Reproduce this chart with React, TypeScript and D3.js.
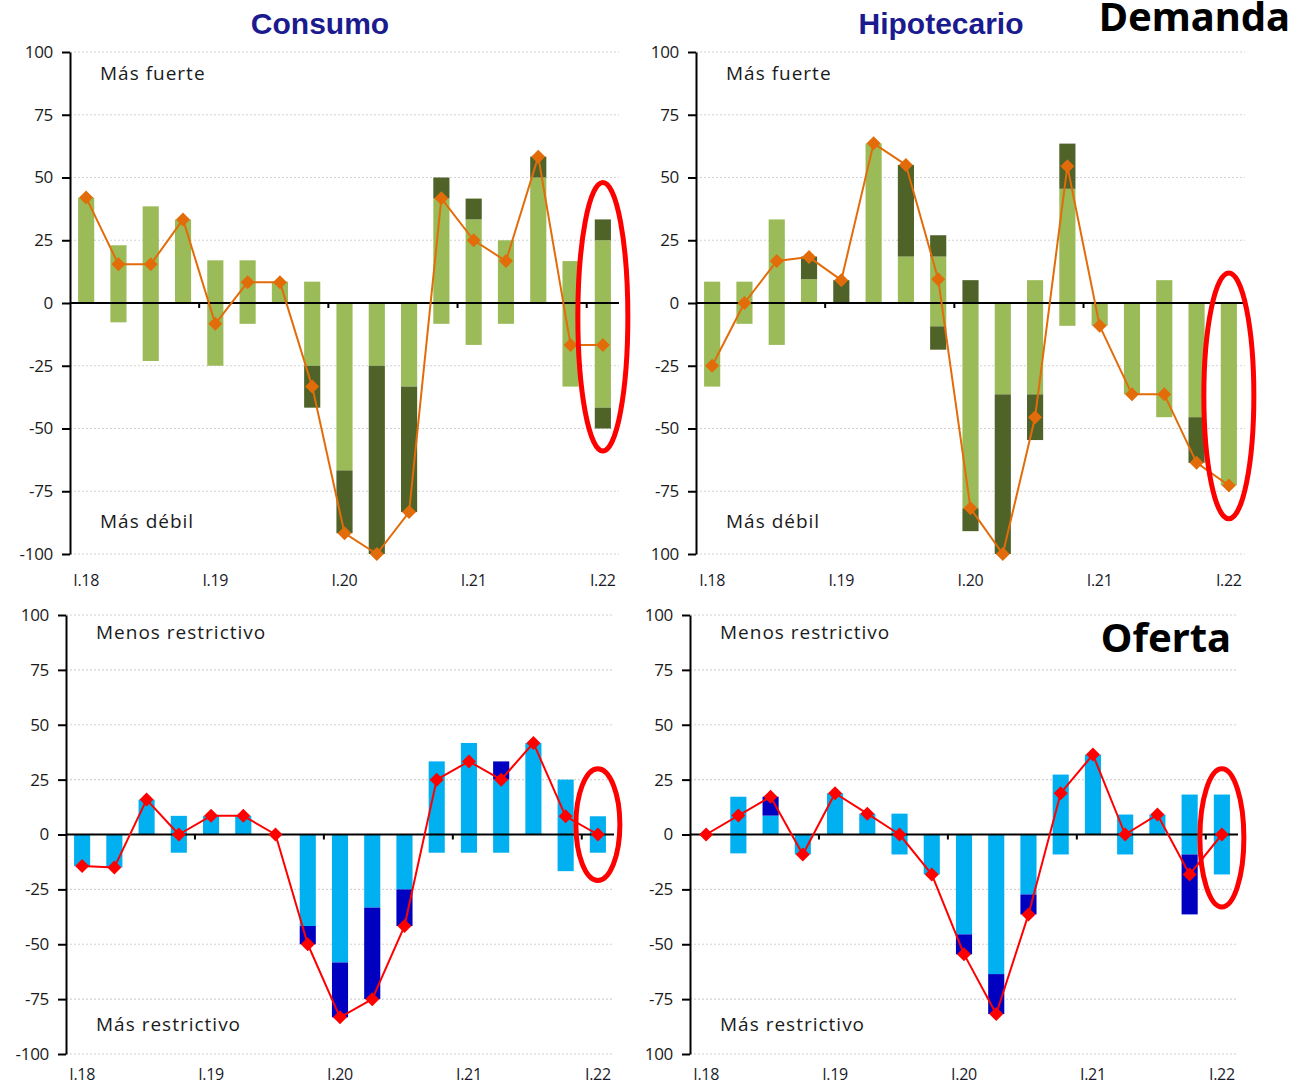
import * as React from 'react';
import * as d3 from 'd3';

// quarters shown on every panel
const quarters = [
  'I.18', 'II.18', 'III.18', 'IV.18',
  'I.19', 'II.19', 'III.19', 'IV.19',
  'I.20', 'II.20', 'III.20', 'IV.20',
  'I.21', 'II.21', 'III.21', 'IV.21',
  'I.22'
];
const yearLabels = ['I.18', 'I.19', 'I.20', 'I.21', 'I.22'];
const yTicks = [100, 75, 50, 25, 0, -25, -50, -75, -100];

// Demanda - Consumo
const consDemLightPos = [42, 23, 38.5, 33.3, 17, 17, 8.5, 8.5, 0, 0, 0, 41.7, 33.3, 25, 50, 16.7, 25];
const consDemDarkPos = [0, 0, 0, 0, 0, 0, 0, 0, 0, 0, 0, 8.3, 8.3, 0, 8.3, 0, 8.3];
const consDemLightNeg = [0, -7.7, -23.1, 0, -25, -8.3, 0, -25, -66.7, -25, -33.3, -8.3, -16.7, -8.3, 0, -33.3, -41.7];
const consDemDarkNeg = [0, 0, 0, 0, 0, 0, 0, -16.7, -25, -75, -50, 0, 0, 0, 0, 0, -8.3];
const consDemNet = [42, 15.4, 15.4, 33.3, -8.3, 8.3, 8.3, -33.3, -91.7, -100, -83.3, 41.7, 25, 16.7, 58.3, -16.7, -16.7];

// Demanda - Hipotecario
const hipDemLightPos = [8.5, 8.5, 33.3, 9.5, 0, 63.6, 18.5, 18.5, 0, 0, 9.1, 45.5, 0, 0, 9.1, 0, 0];
const hipDemDarkPos = [0, 0, 0, 9, 9.1, 0, 36.5, 8.5, 9.1, 0, 0, 18, 0, 0, 0, 0, 0];
const hipDemLightNeg = [-33.3, -8.3, -16.7, 0, 0, 0, 0, -9.3, -81.8, -36.4, -36.4, -9.1, -9.1, -36.4, -45.5, -45.5, -72.7];
const hipDemDarkNeg = [0, 0, 0, 0, 0, 0, 0, -9.3, -9.1, -63.6, -18.2, 0, 0, 0, 0, -18.2, 0];
const hipDemNet = [-25, 0, 16.7, 18.3, 9.1, 63.6, 55, 9.5, -81.8, -100, -45.5, 54.5, -9.1, -36.4, -36.4, -63.6, -72.7];

// Oferta - Consumo
const consOfeLightPos = [0, 0, 15.9, 8.5, 8.5, 8.5, 0, 0, 0, 0, 0, 33.3, 41.7, 25, 41.7, 25, 8.3];
const consOfeDarkPos = [0, 0, 0, 0, 0, 0, 0, 0, 0, 0, 0, 0, 0, 8.3, 0, 0, 0];
const consOfeLightNeg = [-14.4, -15, 0, -8.3, 0, 0, 0, -41.7, -58.3, -33.3, -25, -8.3, -8.3, -8.3, 0, -16.7, -8.3];
const consOfeDarkNeg = [0, 0, 0, 0, 0, 0, 0, -8.3, -25, -41.7, -16.7, 0, 0, 0, 0, 0, 0];
const consOfeNet = [-14.4, -15, 15.9, 0, 8.5, 8.5, 0, -50, -83.3, -75, -41.7, 25, 33.3, 25, 41.7, 8.3, 0];

// Oferta - Hipotecario
const hipOfeLightPos = [0, 17.2, 8.6, 0, 18.8, 9.5, 9.5, 0, 0, 0, 0, 27.3, 36.4, 9.1, 9.1, 18.2, 18.2];
const hipOfeDarkPos = [0, 0, 8.6, 0, 0, 0, 0, 0, 0, 0, 0, 0, 0, 0, 0, 0, 0];
const hipOfeLightNeg = [0, -8.6, 0, -9.1, 0, 0, -9.1, -18.2, -45.5, -63.6, -27.3, -9.1, 0, -9.1, 0, -9.1, -18.2];
const hipOfeDarkNeg = [0, 0, 0, 0, 0, 0, 0, 0, -9.1, -18.2, -9.1, 0, 0, 0, 0, -27.3, 0];
const hipOfeNet = [0, 8.6, 17.2, -9.1, 18.8, 9.5, 0, -18.2, -54.5, -81.8, -36.4, 18.8, 36.4, 0, 9.1, -18.2, 0];

const FONT = "'Open Sans', 'DejaVu Sans', sans-serif";

interface Panel {
  left: number;
  right: number;
  top: number;
  bottom: number;
  lightPos: number[];
  darkPos: number[];
  lightNeg: number[];
  darkNeg: number[];
  net: number[];
  light: string;
  dark: string;
  lineColor: string;
  upper: string;
  lower: string;
  upperY: number;
  lowerY: number;
  xLabelY: number;
  minusBottom: boolean;
  ring: [number, number];
  ringRx: number;
}

const panels: Panel[] = [
  {
    left: 70, right: 619, top: 52, bottom: 554,
    lightPos: consDemLightPos, darkPos: consDemDarkPos, lightNeg: consDemLightNeg, darkNeg: consDemDarkNeg, net: consDemNet,
    light: '#9BBB59', dark: '#4F6228', lineColor: '#E36C0A',
    upper: 'Más fuerte', lower: 'Más débil', upperY: 80, lowerY: 528, xLabelY: 586,
    minusBottom: true, ring: [48, -59], ringRx: 25
  },
  {
    left: 696, right: 1245, top: 52, bottom: 554,
    lightPos: hipDemLightPos, darkPos: hipDemDarkPos, lightNeg: hipDemLightNeg, darkNeg: hipDemDarkNeg, net: hipDemNet,
    light: '#9BBB59', dark: '#4F6228', lineColor: '#E36C0A',
    upper: 'Más fuerte', lower: 'Más débil', upperY: 80, lowerY: 528, xLabelY: 586,
    minusBottom: false, ring: [12, -86], ringRx: 25
  },
  {
    left: 66, right: 614, top: 615, bottom: 1054,
    lightPos: consOfeLightPos, darkPos: consOfeDarkPos, lightNeg: consOfeLightNeg, darkNeg: consOfeDarkNeg, net: consOfeNet,
    light: '#00B0F0', dark: '#0000C0', lineColor: '#FF0000',
    upper: 'Menos restrictivo', lower: 'Más restrictivo', upperY: 639, lowerY: 1031, xLabelY: 1080,
    minusBottom: true, ring: [30, -21], ringRx: 22
  },
  {
    left: 690, right: 1238, top: 615, bottom: 1054,
    lightPos: hipOfeLightPos, darkPos: hipOfeDarkPos, lightNeg: hipOfeLightNeg, darkNeg: hipOfeDarkNeg, net: hipOfeNet,
    light: '#00B0F0', dark: '#0000C0', lineColor: '#FF0000',
    upper: 'Menos restrictivo', lower: 'Más restrictivo', upperY: 639, lowerY: 1031, xLabelY: 1080,
    minusBottom: false, ring: [30, -33], ringRx: 22
  }
];

const drawPanel = (svg: any, p: Panel) => {
  const x = d3.scaleBand<string>().domain(quarters).range([p.left, p.right]).paddingInner(0.5).paddingOuter(0.25);
  const y = d3.scaleLinear().domain([-100, 100]).range([p.bottom, p.top]);
  const bw = x.bandwidth();
  const g = svg.append('g');

  // dotted grid
  g.selectAll('line.grid')
    .data(yTicks.filter(t => t !== 0))
    .join('line')
    .attr('x1', p.left)
    .attr('x2', p.right)
    .attr('y1', d => y(d))
    .attr('y2', d => y(d))
    .attr('stroke', '#d2d2d2')
    .attr('stroke-width', 1.2)
    .attr('stroke-dasharray', '2,2');

  // stacked bars: light next to zero, dark stacked beyond it
  const segs: {q: string; a: number; b: number; c: string}[] = [];
  quarters.forEach((q, i) => {
    segs.push({q, a: 0, b: p.lightPos[i], c: p.light});
    segs.push({q, a: p.lightPos[i], b: p.lightPos[i] + p.darkPos[i], c: p.dark});
    segs.push({q, a: 0, b: p.lightNeg[i], c: p.light});
    segs.push({q, a: p.lightNeg[i], b: p.lightNeg[i] + p.darkNeg[i], c: p.dark});
  });
  g.selectAll('rect.bar')
    .data(segs.filter(s => s.a !== s.b))
    .join('rect')
    .attr('x', d => x(d.q))
    .attr('width', bw)
    .attr('y', d => y(Math.max(d.a, d.b)))
    .attr('height', d => Math.abs(y(d.a) - y(d.b)))
    .attr('fill', d => d.c);

  // y axis
  const axis = d3
    .axisLeft(y)
    .tickValues(yTicks)
    .tickSize(8)
    .tickSizeOuter(0)
    .tickPadding(9)
    .tickFormat(d => (d === -100 && !p.minusBottom ? '100' : String(d)));
  const ax = g.append('g').attr('transform', `translate(${p.left},0)`).call(axis);
  ax.select('.domain').attr('stroke', '#000').attr('stroke-width', 2);
  ax.selectAll('.tick line').attr('stroke', '#000').attr('stroke-width', 2);
  ax.selectAll('.tick text')
    .attr('fill', '#1a1a1a')
    .style('font-family', FONT)
    .style('font-size', '17px')
    .style('letter-spacing', '-0.3px');

  // zero line
  g.append('line')
    .attr('x1', p.left)
    .attr('x2', p.right)
    .attr('y1', y(0))
    .attr('y2', y(0))
    .attr('stroke', '#000')
    .attr('stroke-width', 2);

  // year ticks on zero line
  g.selectAll('line.xtick')
    .data(yearLabels.slice(1))
    .join('line')
    .attr('x1', d => x(d) - x.step() * 0.25)
    .attr('x2', d => x(d) - x.step() * 0.25)
    .attr('y1', y(0))
    .attr('y2', y(0) + 5)
    .attr('stroke', '#000')
    .attr('stroke-width', 2);

  g.selectAll('text.xlab')
    .data(yearLabels)
    .join('text')
    .attr('x', d => x(d) + bw / 2)
    .attr('y', p.xLabelY)
    .attr('text-anchor', 'middle')
    .attr('fill', '#1a1a2a')
    .style('font-family', FONT)
    .style('font-size', '16px')
    .style('letter-spacing', '-0.3px')
    .text(d => d);

  // net balance line
  const pts = quarters.map((q, i) => ({q, v: p.net[i]}));
  const line = d3
    .line<{q: string; v: number}>()
    .x(d => x(d.q) + bw / 2)
    .y(d => y(d.v));
  g.append('path')
    .datum(pts)
    .attr('fill', 'none')
    .attr('stroke', p.lineColor)
    .attr('stroke-width', 2)
    .attr('stroke-linejoin', 'round')
    .attr('d', line);
  g.selectAll('path.mk')
    .data(pts)
    .join('path')
    .attr('transform', d => `translate(${x(d.q) + bw / 2},${y(d.v)})`)
    .attr('d', 'M0,-7L7,0L0,7L-7,0Z')
    .attr('fill', p.lineColor);

  // labels inside plot
  [
    {t: p.upper, y: p.upperY},
    {t: p.lower, y: p.lowerY}
  ].forEach(l =>
    g
      .append('text')
      .attr('x', p.left + 30)
      .attr('y', l.y)
      .attr('fill', '#1a1a1a')
      .style('font-family', FONT)
      .style('font-size', '19px')
      .style('letter-spacing', '1px')
      .text(l.t)
  );

  // red highlight around latest quarter
  const last = quarters[quarters.length - 1];
  g.append('ellipse')
    .attr('cx', x(last) + bw / 2)
    .attr('cy', (y(p.ring[0]) + y(p.ring[1])) / 2)
    .attr('rx', p.ringRx)
    .attr('ry', (y(p.ring[1]) - y(p.ring[0])) / 2)
    .attr('fill', 'none')
    .attr('stroke', '#FF0000')
    .attr('stroke-width', 5);
};

export default function App() {
  const ref = React.useRef<SVGSVGElement>(null);

  React.useEffect(() => {
    const svg = d3.select(ref.current);
    svg.selectAll('*').remove();
    panels.forEach(p => drawPanel(svg, p));

    const titles = [
      {t: 'Consumo', x: 320},
      {t: 'Hipotecario', x: 941}
    ];
    svg
      .selectAll('text.title')
      .data(titles)
      .join('text')
      .attr('x', d => d.x)
      .attr('y', 34)
      .attr('text-anchor', 'middle')
      .attr('fill', '#1B1B8F')
      .style('font-family', "'Liberation Sans', Arial, sans-serif")
      .style('font-weight', 'bold')
      .style('font-size', '30px')
      .text(d => d.t);

    svg
      .append('text')
      .attr('x', 1290)
      .attr('y', 31)
      .attr('text-anchor', 'end')
      .attr('fill', '#000')
      .style('font-family', "'Noto Sans', sans-serif")
      .style('font-weight', 'bold')
      .style('font-size', '40px')
      .text('Demanda');
    svg
      .append('text')
      .attr('x', 1231)
      .attr('y', 652)
      .attr('text-anchor', 'end')
      .attr('fill', '#000')
      .style('font-family', "'Noto Sans', sans-serif")
      .style('font-weight', 'bold')
      .style('font-size', '40px')
      .text('Oferta');
  }, []);

  return (
    <svg
      ref={ref}
      width={1294}
      height={1087}
      style={{position: 'absolute', left: 0, top: 0, display: 'block', background: '#fff'}}
    />
  );
}
